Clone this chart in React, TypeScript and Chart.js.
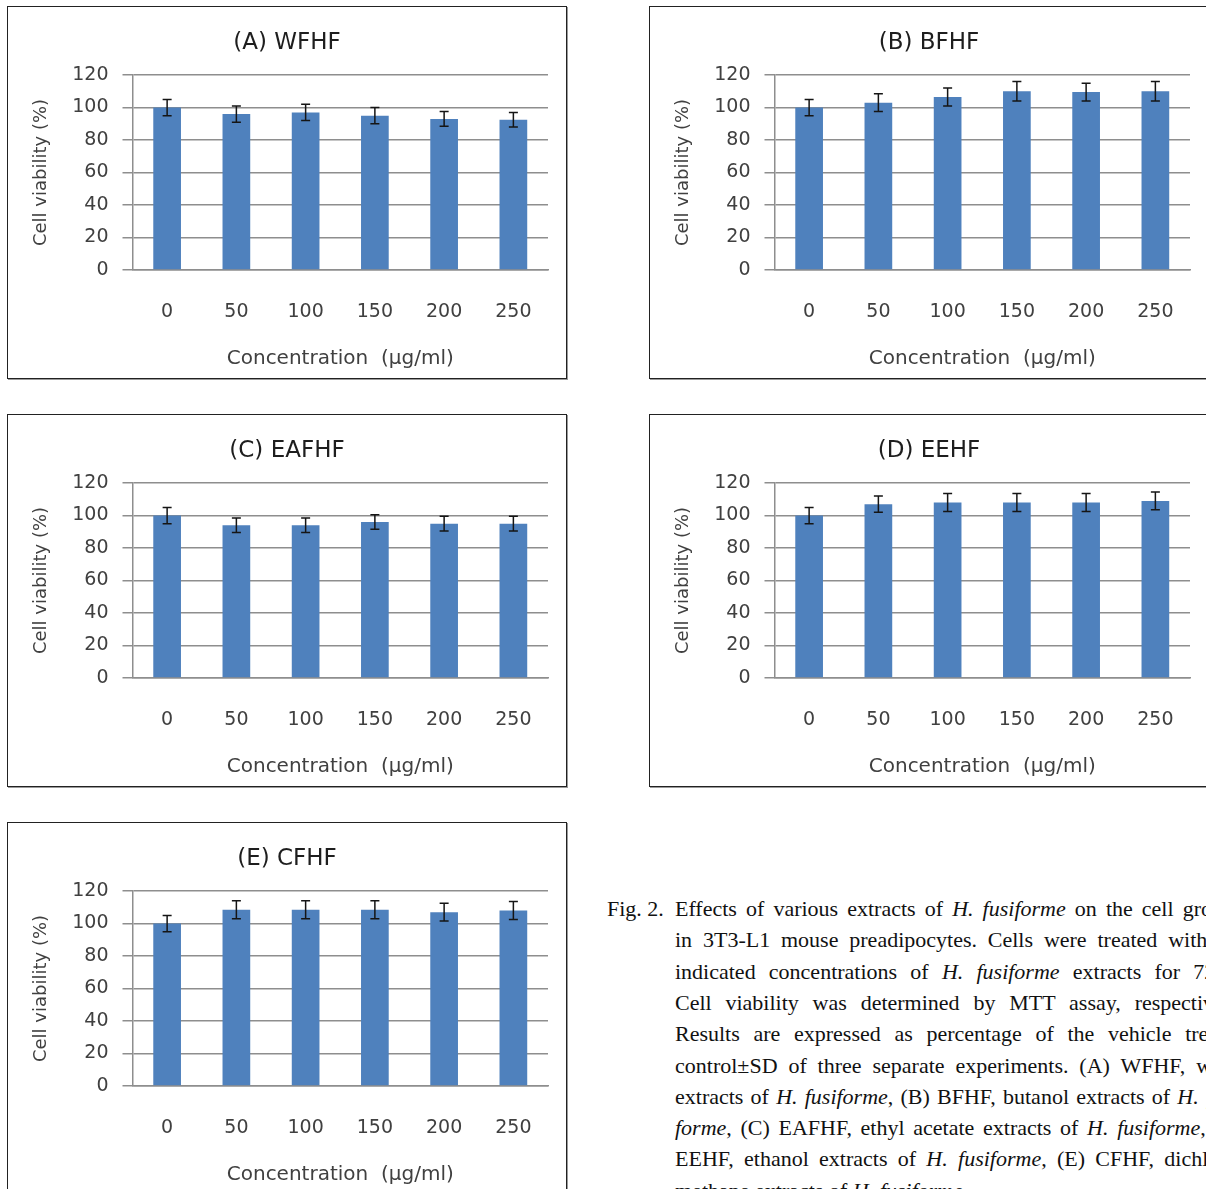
import React, { useEffect, useRef } from 'react';
import { Chart, registerables } from 'chart.js';

Chart.register(...registerables);

// ---- data ----
const categories = ['0', '50', '100', '150', '200', '250'];
const panelTitles = ['(A) WFHF', '(B) BFHF', '(C) EAFHF', '(D) EEHF', '(E) CFHF'];
const wfhfMean = [100, 96, 97, 95, 93, 92.5];
const wfhfSD = [5, 5, 5, 5, 4.5, 4.5];
const bfhfMean = [100, 103, 106.5, 110, 109.5, 110];
const bfhfSD = [5, 5.5, 5.5, 6, 5.5, 6];
const eafhfMean = [100, 94, 94, 96, 95, 95];
const eafhfSD = [5, 4.5, 4.5, 4.5, 4.5, 4.5];
const eehfMean = [100, 107, 108, 108, 108, 109];
const eehfSD = [5, 5, 5.5, 5.5, 5.5, 5.5];
const cfhfMean = [100, 108.5, 108.5, 108.5, 107, 108];
const cfhfSD = [5, 5.5, 5.5, 5.5, 5.5, 5.5];
const yMin = 0;
const yMax = 120;
const yStep = 20;
const yAxisTitle = 'Cell viability (%)';
const xAxisTitle = 'Concentration  (\u03bcg/ml)';

const FONT = '"DejaVu Sans", "Open Sans", sans-serif';
const BAR_COLOR = '#4f81bd';
const GRID_COLOR = '#8e8e8e';
const TEXT_COLOR = '#404040';

const errorBarPlugin = {
  id: 'errorBars',
  afterDatasetsDraw(chart: any, _args: any, opts: any) {
    const sd: number[] = opts.sd || [];
    const ds = chart.data.datasets[0];
    const meta = chart.getDatasetMeta(0);
    const y = chart.scales.y;
    const ctx = chart.ctx;
    ctx.save();
    ctx.strokeStyle = '#151515';
    ctx.lineWidth = 1.5;
    meta.data.forEach((bar: any, i: number) => {
      const v = ds.data[i] as number;
      const top = y.getPixelForValue(v + sd[i]);
      const bot = y.getPixelForValue(v - sd[i]);
      const x = bar.x;
      const cap = 4.5;
      ctx.beginPath();
      ctx.moveTo(x, top);
      ctx.lineTo(x, bot);
      ctx.moveTo(x - cap, top);
      ctx.lineTo(x + cap, top);
      ctx.moveTo(x - cap, bot);
      ctx.lineTo(x + cap, bot);
      ctx.stroke();
    });
    ctx.restore();
  },
};

// Panel title centred on the whole panel (not on the padded layout box)
const panelTitlePlugin = {
  id: 'panelTitle',
  afterDraw(chart: any, _args: any, opts: any) {
    const ctx = chart.ctx;
    ctx.save();
    ctx.fillStyle = '#1e1e1e';
    ctx.font = `23px ${FONT}`;
    ctx.textAlign = 'center';
    ctx.textBaseline = 'middle';
    ctx.fillText(opts.text || '', chart.width / 2, 36.5);
    ctx.restore();
  },
};

const CANVAS_W = 558;
const CANVAS_H = 371;

function Panel({ left, top, title, mean, sd }: { left: number; top: number; title: string; mean: number[]; sd: number[] }) {
  const ref = useRef<HTMLCanvasElement>(null);
  useEffect(() => {
    if (!ref.current) return;
    const chart = new Chart(ref.current, {
      type: 'bar',
      data: {
        labels: categories,
        datasets: [
          {
            data: mean,
            backgroundColor: BAR_COLOR,
            borderWidth: 0,
            categoryPercentage: 1,
            barPercentage: 0.4,
          },
        ],
      },
      options: {
        responsive: false,
        animation: false,
        devicePixelRatio: 1,
        layout: { padding: { left: 0, right: 18, top: 68, bottom: 0 } },
        plugins: {
          legend: { display: false },
          tooltip: { enabled: false },
          title: { display: false },
          panelTitle: { text: title },
          errorBars: { sd },
        } as any,
        scales: {
          x: {
            grid: { display: false, drawTicks: false },
            border: { display: true, color: GRID_COLOR, width: 1.5 },
            ticks: {
              color: TEXT_COLOR,
              font: { family: FONT, size: 19 },
              padding: 31,
              maxRotation: 0,
            },
            title: {
              display: true,
              text: xAxisTitle,
              color: TEXT_COLOR,
              font: { family: FONT, size: 20 },
              padding: { top: 0, bottom: 7 },
            },
            afterFit: (scale: any) => {
              scale.height = 108;
            },
          },
          y: {
            min: yMin,
            max: yMax,
            grid: {
              color: GRID_COLOR,
              lineWidth: 1.5,
              drawTicks: true,
              tickLength: 10,
            },
            border: { display: true, color: GRID_COLOR, width: 1.5 },
            ticks: {
              stepSize: yStep,
              color: TEXT_COLOR,
              font: { family: FONT, size: 19 },
              padding: 14,
            },
            title: {
              display: true,
              text: yAxisTitle,
              color: TEXT_COLOR,
              font: { family: FONT, size: 18 },
              padding: { top: 23, bottom: 0 },
            },
            afterFit: (scale: any) => {
              scale.width = 124.5;
            },
          },
        },
      },
      plugins: [errorBarPlugin, panelTitlePlugin],
    });
    return () => chart.destroy();
  }, [title, mean, sd]);
  return (
    <div
      style={{
        position: 'absolute',
        left,
        top,
        width: CANVAS_W,
        height: CANVAS_H,
        border: '1px solid #222',
        boxShadow: '1px 1px 0 #9a9a9a',
        background: '#fff',
      }}
    >
      <canvas ref={ref} width={CANVAS_W} height={CANVAS_H} style={{ display: 'block', width: CANVAS_W, height: CANVAS_H }} />
    </div>
  );
}

const H = () => <i>H. fusiforme</i>;

const captionLines: React.ReactNode[] = [
  <>Effects of various extracts of <H /> on the cell growth</>,
  <>in 3T3-L1 mouse preadipocytes. Cells were treated with the</>,
  <>indicated concentrations of <H /> extracts for 72 h.</>,
  <>Cell viability was determined by MTT assay, respectively.</>,
  <>Results are expressed as percentage of the vehicle treated</>,
  <>control±SD of three separate experiments. (A) WFHF, water</>,
  <>extracts of <H />, (B) BFHF, butanol extracts of <i>H. fusi-</i></>,
  <><i>forme</i>, (C) EAFHF, ethyl acetate extracts of <H />, (D)</>,
  <>EEHF, ethanol extracts of <H />, (E) CFHF, dichloro-</>,
  <>methane extracts of <H />.</>,
];

function Caption() {
  const lineH = 31.3;
  const last = captionLines.length - 1;
  return (
    <div
      style={{
        position: 'absolute',
        left: 607,
        top: 893,
        fontFamily: '"Liberation Serif", "DejaVu Serif", serif',
        fontSize: 22,
        color: '#111',
        lineHeight: `${lineH}px`,
      }}
    >
      <div style={{ position: 'absolute', left: 0, top: 0, whiteSpace: 'nowrap' }}>Fig. 2.</div>
      {captionLines.map((ln, i) => (
        <div
          key={i}
          style={{
            position: 'absolute',
            left: 68,
            top: i * lineH,
            width: i === last ? 'auto' : 570,
            whiteSpace: 'nowrap',
            textAlign: 'justify',
            textAlignLast: i === last ? 'auto' : 'justify',
          } as React.CSSProperties}
        >
          {ln}
        </div>
      ))}
    </div>
  );
}

export default function App() {
  return (
    <div
      style={{
        position: 'fixed',
        left: 0,
        top: 0,
        width: 1206,
        height: 1189,
        overflow: 'hidden',
        background: '#fff',
      }}
    >
      <Panel left={7} top={6} title={panelTitles[0]} mean={wfhfMean} sd={wfhfSD} />
      <Panel left={649} top={6} title={panelTitles[1]} mean={bfhfMean} sd={bfhfSD} />
      <Panel left={7} top={414} title={panelTitles[2]} mean={eafhfMean} sd={eafhfSD} />
      <Panel left={649} top={414} title={panelTitles[3]} mean={eehfMean} sd={eehfSD} />
      <Panel left={7} top={822} title={panelTitles[4]} mean={cfhfMean} sd={cfhfSD} />
      <Caption />
    </div>
  );
}
